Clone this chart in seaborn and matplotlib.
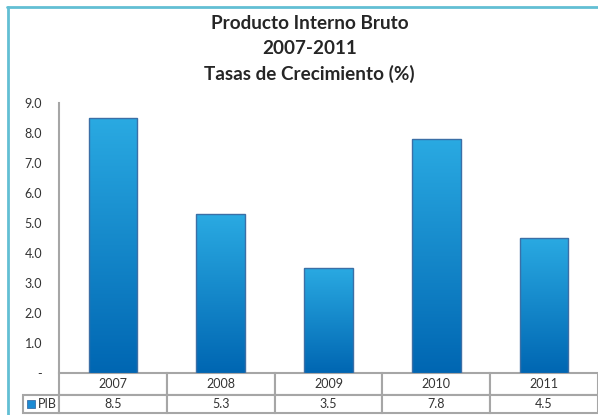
import numpy as np
import seaborn as sns
import matplotlib.pyplot as plt
from matplotlib.colors import LinearSegmentedColormap
from matplotlib.patches import Rectangle
from matplotlib.lines import Line2D

years = ['2007', '2008', '2009', '2010', '2011']
pib = [8.5, 5.3, 3.5, 7.8, 4.5]
series_name = 'PIB'
yticks = [0, 1, 2, 3, 4, 5, 6, 7, 8, 9]
title = 'Producto Interno Bruto\n2007-2011\nTasas de Crecimiento (%)'

sns.set_style('white')
plt.rcParams['font.family'] = ['Lato', 'DejaVu Sans']

text_color = '#333333'
grid_color = '#a6a6a6'
bar_cmap = LinearSegmentedColormap.from_list('pib', ['#0066b2', '#2aaae2'])

fig = plt.figure(figsize=(5.98, 4.15), dpi=100)
ax = fig.add_axes([59 / 598, 42 / 415, 539 / 598, 270 / 415])

sns.barplot(x=years, y=pib, ax=ax, width=0.45, color='#1a8ad0',
            edgecolor='#3b6fa6', linewidth=1.0, saturation=1)

# gradient fill inside each bar
for patch in list(ax.patches):
    bb = patch.get_bbox()
    grad = np.linspace(0, 1, 256).reshape(-1, 1)
    im = ax.imshow(grad, extent=[bb.x0, bb.x1, bb.y0, bb.y1], origin='lower',
                   aspect='auto', cmap=bar_cmap, zorder=patch.get_zorder())
    im.set_clip_path(patch)
    patch.set_facecolor('none')
    patch.set_zorder(patch.get_zorder() + 0.1)

ax.set_xlim(-0.5, len(years) - 0.5)
ax.set_ylim(0, 9)
ax.set_yticks(yticks)
ax.set_yticklabels(['-' if v == 0 else f'{v:.1f}' for v in yticks])
ax.tick_params(axis='y', length=0, pad=12, labelsize=9, labelcolor=text_color)
ax.set_xticks([])
ax.set_xlabel('')
ax.set_ylabel('')
for side in ['top', 'right', 'bottom']:
    ax.spines[side].set_visible(False)
ax.spines['left'].set_color(grid_color)
ax.spines['left'].set_linewidth(1.5)

# data table under the plot (bbox covers only the data columns)
rl_w = 36 / 539
tbl = ax.table(cellText=[[f'{v:.1f}' for v in pib]],
               colLabels=years, colWidths=[1 / len(years)] * len(years),
               cellLoc='center',
               bbox=[0, -40 / 270, 1, 40 / 270])
for c in range(len(years)):
    tbl[0, c].set_height(22)
    tbl[1, c].set_height(18)
tbl.add_cell(1, -1, width=rl_w, height=18, text=series_name, loc='right')
tbl.auto_set_font_size(False)
for (r, c), cell in tbl.get_celld().items():
    cell.set_edgecolor(grid_color)
    cell.set_linewidth(1.5)
    cell.get_text().set_fontsize(9)
    cell.get_text().set_color(text_color)
    if c == -1:
        cell.PAD = 0.05

# legend key square
fig.patches.append(Rectangle((27 / 598, 1 - 408 / 415), 8 / 598, 8 / 415,
                             transform=fig.transFigure, facecolor='#1b8ad3',
                             edgecolor='#3b6fa6', linewidth=0.6))

fig.text(0.518, 1 - 15 / 415, title, ha='center', va='top', fontsize=13.6,
         fontweight='bold', color='#262626', linespacing=1.55)

# chart border (teal)
fig.add_artist(Line2D([7 / 598, 1], [1 - 7.5 / 415, 1 - 7.5 / 415],
                      transform=fig.transFigure, color='#62bfd4', linewidth=2))
fig.add_artist(Line2D([7.5 / 598, 7.5 / 598], [0, 1 - 7.5 / 415],
                      transform=fig.transFigure, color='#62bfd4', linewidth=2))

fig.savefig('out.png', dpi=100)
